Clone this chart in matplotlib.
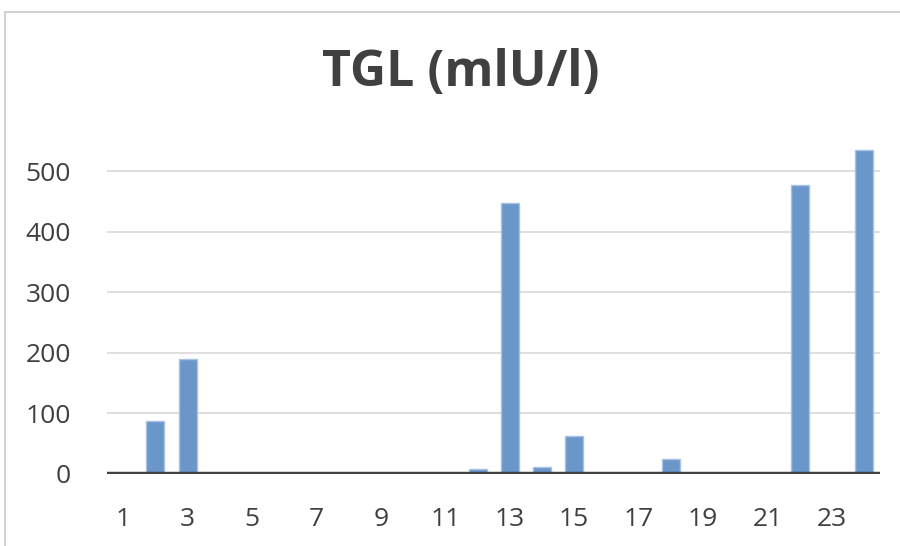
import matplotlib.pyplot as plt
from matplotlib.patches import Rectangle

plt.rcParams['font.family'] = ['Open Sans', 'DejaVu Sans']

# data
categories = list(range(1, 25))
values = [0, 88, 190, 0, 0, 0, 0, 0, 0, 0, 0, 8, 447, 12, 63, 0, 0, 25, 0, 0, 0, 478, 0, 535]
yticks = [0, 100, 200, 300, 400, 500]
xtick_labels = [str(c) for c in categories if c % 2 == 1]

fig = plt.figure(figsize=(9, 5.46), dpi=100)
ax = fig.add_axes([0.119, 0.1319, 0.859, 0.61])

# chart area border (partly cropped like the reference)
fig.patches.append(Rectangle((5 / 900, -0.1), 1.2, 1 - 12 / 546 + 0.1,
                             transform=fig.transFigure, fill=False,
                             edgecolor='#C8C8C8', linewidth=1.2))

ax.bar(categories, values, width=0.56, color='#6A96C9',
       edgecolor='#A9C2E3', linewidth=1.0, zorder=3)

ax.set_xlim(0.5, 24.5)
ax.set_ylim(0, 550)
ax.set_yticks(yticks)
ax.set_xticks([c for c in categories if c % 2 == 1])
ax.set_xticklabels(xtick_labels)
ax.yaxis.grid(True, color='#D9D9D9', linewidth=1.2, zorder=0)
ax.axhline(0, color='#404040', linewidth=3.2, zorder=4)

for s in ax.spines.values():
    s.set_visible(False)
ax.tick_params(axis='both', length=0, labelsize=19, labelcolor='#404040')
ax.tick_params(axis='x', pad=24)
ax.tick_params(axis='y', pad=26)

fig.text(0.512, 0.866, 'TGL (mlU/l)', ha='center', va='center',
         fontsize=36, fontweight='bold', color='#404040')

fig.savefig('out.png')
